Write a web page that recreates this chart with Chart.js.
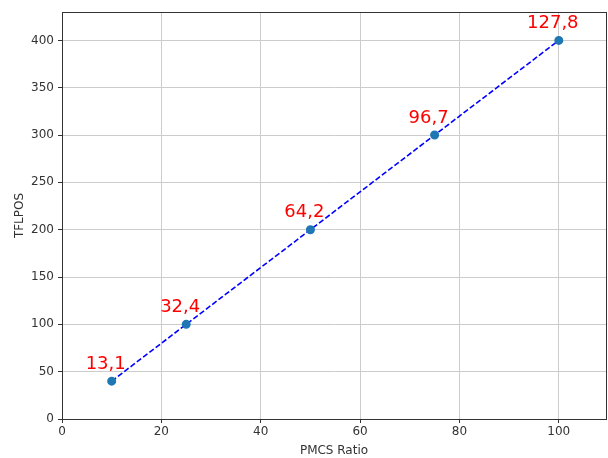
<!DOCTYPE html>
<html><head><meta charset="utf-8">
<script src="https://cdn.jsdelivr.net/npm/chart.js@4/dist/chart.umd.min.js"></script>
<style>html,body{margin:0;padding:0;background:#fff}#wrap{width:608px;height:458px}</style>
</head><body><div id="wrap"><canvas id="c" width="608" height="458"></canvas></div>
<script>
const pmcsRatio = [10, 25, 50, 75, 100];
const tflpos = [40, 100, 200, 300, 400];
const pointLabels = ["13,1", "32,4", "64,2", "96,7", "127,8"];
const xTicks = [0, 20, 40, 60, 80, 100];
const yTicks = [0, 50, 100, 150, 200, 250, 300, 350, 400];

const frame = {
  id: 'frame',
  afterDatasetsDraw(chart) {
    const {ctx, chartArea: a} = chart;
    const xs = chart.scales.x, ys = chart.scales.y;
    ctx.save();
    ctx.fillStyle = '#ff0000';
    ctx.font = '18px "DejaVu Sans"';
    ctx.textAlign = 'center';
    ctx.textBaseline = 'alphabetic';
    pmcsRatio.forEach((v, i) => {
      ctx.fillText(pointLabels[i], xs.getPixelForValue(v) - 6, ys.getPixelForValue(tflpos[i]) - 12.5);
    });
    ctx.strokeStyle = '#333';
    ctx.lineWidth = 1;
    ctx.strokeRect(Math.round(a.left) + 0.5, Math.round(a.top) + 0.5, Math.round(a.right - a.left), Math.round(a.bottom - a.top));
    ctx.restore();
  }
};

new Chart(document.getElementById('c'), {
  type: 'line',
  data: {
    datasets: [{
      data: pmcsRatio.map((x, i) => ({x, y: tflpos[i]})),
      borderColor: '#0000ff',
      borderWidth: 1.6,
      borderDash: [5.5, 2.4],
      pointBackgroundColor: '#1f77b4',
      pointBorderColor: '#1f77b4',
      pointRadius: 3.7,
      fill: false,
      tension: 0
    }]
  },
  options: {
    responsive: false,
    animation: false,
    events: [],
    layout: {autoPadding: false, padding: {top: 12, right: 2, left: 0, bottom: 0}},
    plugins: {legend: {display: false}, tooltip: {enabled: false}},
    scales: {
      x: {
        type: 'linear', min: 0, max: 109.5,
        afterBuildTicks: s => { s.ticks = xTicks.map(v => ({value: v})); },
        afterFit: s => { s.height = 39; s.paddingRight = 0; s.paddingLeft = 0; },
        grid: {color: '#cccccc', lineWidth: 1, tickLength: 4, tickColor: '#333'},
        border: {color: '#333'},
        ticks: {color: '#333', font: {family: 'DejaVu Sans', size: 12}, padding: 2, maxRotation: 0},
        title: {display: true, text: 'PMCS Ratio', color: '#333', font: {family: 'DejaVu Sans', size: 12}, padding: {top: 0, bottom: 0}}
      },
      y: {
        type: 'linear', min: 0, max: 430,
        afterBuildTicks: s => { s.ticks = yTicks.map(v => ({value: v})); },
        afterFit: s => { s.width = 62; s.paddingTop = 0; s.paddingBottom = 0; },
        grid: {color: '#cccccc', lineWidth: 1, tickLength: 4, tickColor: '#333'},
        border: {color: '#333'},
        ticks: {color: '#333', font: {family: 'DejaVu Sans', size: 12}, padding: 4},
        title: {display: true, text: 'TFLPOS', color: '#333', font: {family: 'DejaVu Sans', size: 12}, padding: {top: 13, bottom: 0}}
      }
    }
  },
  plugins: [frame]
});
</script></body></html>
